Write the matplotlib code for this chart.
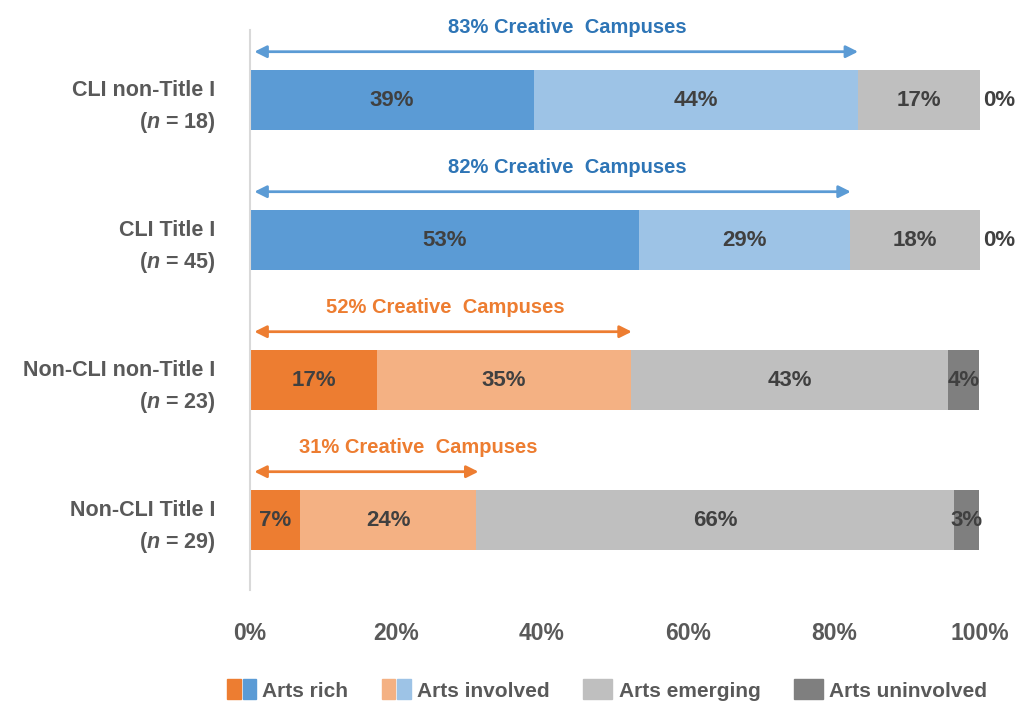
import matplotlib.pyplot as plt
from matplotlib.patches import Patch
from matplotlib.legend_handler import HandlerTuple

# data (percent of campuses)
groups = ['CLI non-Title I', 'CLI Title I', 'Non-CLI non-Title I', 'Non-CLI Title I']
n_values = [18, 45, 23, 29]
arts_rich = [38.9, 53.3, 17.4, 6.9]
arts_involved = [44.4, 28.9, 34.8, 24.1]
arts_emerging = [16.7, 17.8, 43.4, 65.5]
arts_uninvolved = [0.0, 0.0, 4.3, 3.4]
creative = [83, 82, 52, 31]
is_cli = [True, True, False, False]

BLUE, LBLUE = '#5B9BD5', '#9DC3E6'
ORANGE, LORANGE = '#ED7D31', '#F4B183'
GRAY, DGRAY = '#BFBFBF', '#7F7F7F'
TEXT = '#404040'
LABEL = '#595959'

FONT = ['Liberation Sans', 'DejaVu Sans']
plt.rcParams['font.family'] = FONT
plt.rcParams['font.weight'] = 'bold'
plt.rcParams['mathtext.fontset'] = 'custom'
plt.rcParams['mathtext.it'] = 'Liberation Sans:italic:bold'
plt.rcParams['mathtext.rm'] = 'Liberation Sans:bold'

fig = plt.figure(figsize=(10.15, 7.04), dpi=100)
ax = fig.add_axes([250 / 1015, 1 - 590 / 704, 730 / 1015, 560 / 704])

y = list(range(len(groups)))
h = 0.43
for i in y:
    c1, c2 = (BLUE, LBLUE) if is_cli[i] else (ORANGE, LORANGE)
    segs = [arts_rich[i], arts_involved[i], arts_emerging[i], arts_uninvolved[i]]
    cols = [c1, c2, GRAY, DGRAY]
    left = 0
    for v, c in zip(segs, cols):
        ax.barh(i, v, left=left, height=h, color=c, edgecolor='none')
        if v > 0:
            ax.text(left + v / 2, i, f'{round(v):.0f}%', ha='center', va='center',
                    fontsize=16, fontweight='bold', color=TEXT)
        left += v
    if arts_uninvolved[i] == 0:
        ax.text(100.4, i, '0%', ha='left', va='center', fontsize=16,
                fontweight='bold', color=TEXT, clip_on=False)

    # creative campuses arrow
    acol = '#5B9BD5' if is_cli[i] else ORANGE
    tcol = '#2E75B6' if is_cli[i] else ORANGE
    ay = i - 0.345
    ax.annotate('', xy=(0.6, ay), xytext=(creative[i] + 0.3, ay),
                arrowprops=dict(arrowstyle='<|-|>', color=acol, lw=2,
                                mutation_scale=18, shrinkA=0, shrinkB=0),
                annotation_clip=False)
    text_x = [43.4, 43.4, 26.8, 23.0][i]
    ax.text(text_x, i - 0.52, f'{creative[i]}% Creative  Campuses', ha='center',
            va='center', fontsize=14.5, fontweight='bold', color=tcol, clip_on=False)

ax.set_xlim(0, 100)
ax.set_ylim(3.5, -0.5)
ax.set_xticks([0, 20, 40, 60, 80, 100])
ax.set_xticklabels([f'{t}%' for t in [0, 20, 40, 60, 80, 100]])
ax.set_yticks(y)
ax.set_yticklabels([f'{g}\n($\\it{{n}}$ = {n})' for g, n in zip(groups, n_values)],
                   multialignment='right', linespacing=1.45)
ax.tick_params(axis='both', length=0, labelcolor=LABEL)
ax.tick_params(axis='y', pad=25, labelsize=15.5)
ax.tick_params(axis='x', pad=23, labelsize=16.5)
for lab in ax.get_xticklabels() + ax.get_yticklabels():
    lab.set_fontweight('bold')

for s in ['top', 'right', 'bottom']:
    ax.spines[s].set_visible(False)
ax.spines['left'].set_color('#D9D9D9')
ax.spines['left'].set_linewidth(1.5)

handles = [(Patch(color=ORANGE), Patch(color=BLUE)),
           (Patch(color=LORANGE), Patch(color=LBLUE)),
           Patch(color=GRAY), Patch(color=DGRAY)]
labels = ['Arts rich', 'Arts involved', 'Arts emerging', 'Arts uninvolved']
fig.legend(handles, labels, loc='center', bbox_to_anchor=(607 / 1015, 1 - 690 / 704),
           ncol=4, frameon=False, fontsize=15, labelcolor=LABEL,
           handler_map={tuple: HandlerTuple(ndivide=None, pad=0.1)},
           handlelength=1.4, handleheight=1.1, handletextpad=0.3, columnspacing=1.6)

fig.savefig('out.png', dpi=100)
